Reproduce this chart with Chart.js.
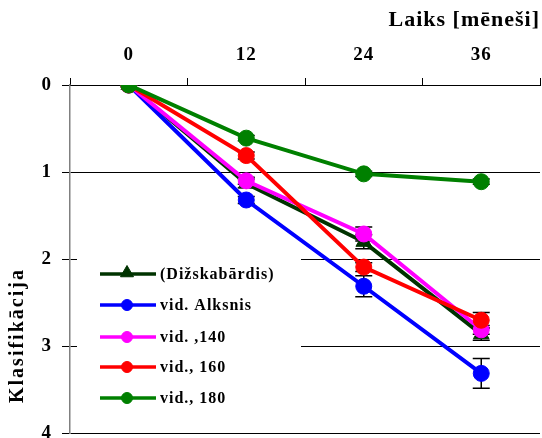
<!DOCTYPE html>
<html>
<head>
<meta charset="utf-8">
<script src="https://cdn.jsdelivr.net/npm/chart.js@4.4.0/dist/chart.umd.min.js"></script>
<style>
html,body{margin:0;padding:0;background:#fff;}
#wrap{width:542px;height:438px;}
</style>
</head>
<body>
<div id="wrap"><canvas id="c" width="542" height="438"></canvas></div>
<script>
// ---- data ----
const months = ['0', '12', '24', '36'];
const seriesNames = ['(Dižskabārdis)', 'vid. Alksnis', 'vid. ,140', 'vid., 160', 'vid., 180'];
const dizskabardis = [0, 1.13, 1.80, 2.86];
const alksnis      = [0, 1.32, 2.31, 3.31];
const vid140       = [0, 1.10, 1.71, 2.81];
const vid160       = [0, 0.81, 2.09, 2.70];
const vid180       = [0, 0.61, 1.02, 1.11];
const errDizskabardis = [0, 0.05, 0.08, 0.07];
const errAlksnis      = [0, 0.04, 0.12, 0.17];
const errVid140       = [0, 0.04, 0.08, 0.05];
const errVid160       = [0, 0.04, 0.05, 0.09];
const errVid180       = [0, 0.03, 0.03, 0.03];
const yTickValues = [0, 1, 2, 3, 4];
const xTitle = 'Laiks [mēneši]';
const yTitle = 'Klasifikācija';

// ---- styling ----
const FONT = '"Liberation Serif", "Times New Roman", serif';
const colors = ['#003300', '#0000FF', '#FF00FF', '#FF0000', '#008000'];
const styles = ['triangle', 'circle', 'circle', 'circle', 'circle'];
const values = [dizskabardis, alksnis, vid140, vid160, vid180];
const errors = [errDizskabardis, errAlksnis, errVid140, errVid160, errVid180];

const datasets = seriesNames.map((name, i) => ({
  label: name,
  data: values[i],
  errors: errors[i],
  borderColor: colors[i],
  backgroundColor: colors[i],
  pointBackgroundColor: colors[i],
  pointBorderColor: colors[i],
  pointStyle: styles[i],
  pointRadius: styles[i] === 'triangle' ? 9 : 8,
  pointBorderWidth: 1,
  borderWidth: 4,
  tension: 0,
  fill: false,
  order: seriesNames.length - i
}));

const spacingPlugin = {
  id: 'spacing',
  beforeLayout(chart) { chart.ctx.letterSpacing = '1px'; },
  beforeDraw(chart) { chart.ctx.letterSpacing = '1px'; }
};

// legend box inside plot (covers gridlines), then error bars behind markers
const innerLegend = {
  id: 'innerLegend',
  beforeDatasetsDraw(chart) {
    const ctx = chart.ctx;
    ctx.save();
    ctx.fillStyle = '#ffffff';
    ctx.fillRect(77, 250, 224, 172);
    const rowY = [274, 305, 337, 367, 398];
    chart.data.datasets.forEach((ds, i) => {
      const y = rowY[i];
      ctx.strokeStyle = ds.borderColor;
      ctx.lineWidth = 3.5;
      ctx.beginPath();
      ctx.moveTo(100, y);
      ctx.lineTo(156, y);
      ctx.stroke();
      ctx.fillStyle = ds.borderColor;
      ctx.lineWidth = 1;
      const tri = ds.pointStyle === 'triangle';
      Chart.helpers.drawPoint(ctx, {pointStyle: ds.pointStyle, radius: tri ? 7.5 : 5.5, borderWidth: 1}, 127, tri ? y - 1 : y);
      ctx.fillStyle = '#000';
      ctx.letterSpacing = '1px';
      ctx.font = 'bold 16px ' + FONT;
      ctx.textBaseline = 'middle';
      ctx.textAlign = 'left';
      ctx.fillText(ds.label, 160, y + 1);
    });
    ctx.restore();

    // error bars
    const xs = chart.scales.x, ys = chart.scales.y;
    ctx.save();
    ctx.strokeStyle = '#000';
    ctx.lineWidth = 1.5;
    chart.data.datasets.forEach(ds => {
      ds.data.forEach((v, j) => {
        const e = ds.errors[j];
        if (!e) return;
        const x = xs.getPixelForValue(j);
        const y1 = ys.getPixelForValue(v - e);
        const y2 = ys.getPixelForValue(v + e);
        ctx.beginPath();
        ctx.moveTo(x, y1); ctx.lineTo(x, y2);
        ctx.moveTo(x - 8.5, y1); ctx.lineTo(x + 8.5, y1);
        ctx.moveTo(x - 8.5, y2); ctx.lineTo(x + 8.5, y2);
        ctx.stroke();
      });
    });
    ctx.restore();
  },
  afterDraw(chart) {
    const ctx = chart.ctx;
    ctx.save();
    ctx.translate(18, 403);
    ctx.rotate(-Math.PI / 2);
    ctx.fillStyle = '#000';
    ctx.letterSpacing = '2px';
    ctx.font = 'bold 20px ' + FONT;
    ctx.textAlign = 'left';
    ctx.textBaseline = 'middle';
    ctx.fillText(yTitle, 0, 0);
    ctx.restore();
  }
};

new Chart(document.getElementById('c'), {
  type: 'line',
  data: { labels: months, datasets },
  options: {
    responsive: false,
    animation: false,
    devicePixelRatio: 1,
    layout: { autoPadding: false, padding: { left: 0, right: 2, top: 0, bottom: 4.5 } },
    plugins: { legend: { display: false }, tooltip: { enabled: false } },
    scales: {
      x: {
        type: 'category',
        position: 'top',
        offset: true,
        grid: { offset: true, drawOnChartArea: false, color: '#000', tickColor: '#000', tickLength: 7, lineWidth: 1 },
        border: { color: '#000', width: 1 },
        ticks: { color: '#000', font: { family: FONT, size: 19, weight: 'bold' }, padding: 12, maxRotation: 0, autoSkip: false },
        title: { display: true, text: xTitle, align: 'end', color: '#000', font: { family: FONT, size: 22, weight: 'bold' }, padding: { top: 7, bottom: 0 } },
        afterFit(s) { s.height = 85; s.paddingLeft = 0; s.paddingRight = 0; }
      },
      y: {
        type: 'linear',
        reverse: true,
        min: yTickValues[0],
        max: yTickValues[yTickValues.length - 1],
        afterBuildTicks(s) { s.ticks = yTickValues.map(v => ({ value: v })); },
        grid: { color: '#000', tickColor: '#000', tickLength: 8, lineWidth: 1 },
        border: { color: '#808080', width: 1.5 },
        ticks: { color: '#000', font: { family: FONT, size: 19, weight: 'bold' }, padding: 10 },
        afterFit(s) { s.width = 70; s.paddingTop = 0; s.paddingBottom = 0; }
      }
    }
  },
  plugins: [spacingPlugin, innerLegend]
});
</script>
</body>
</html>
